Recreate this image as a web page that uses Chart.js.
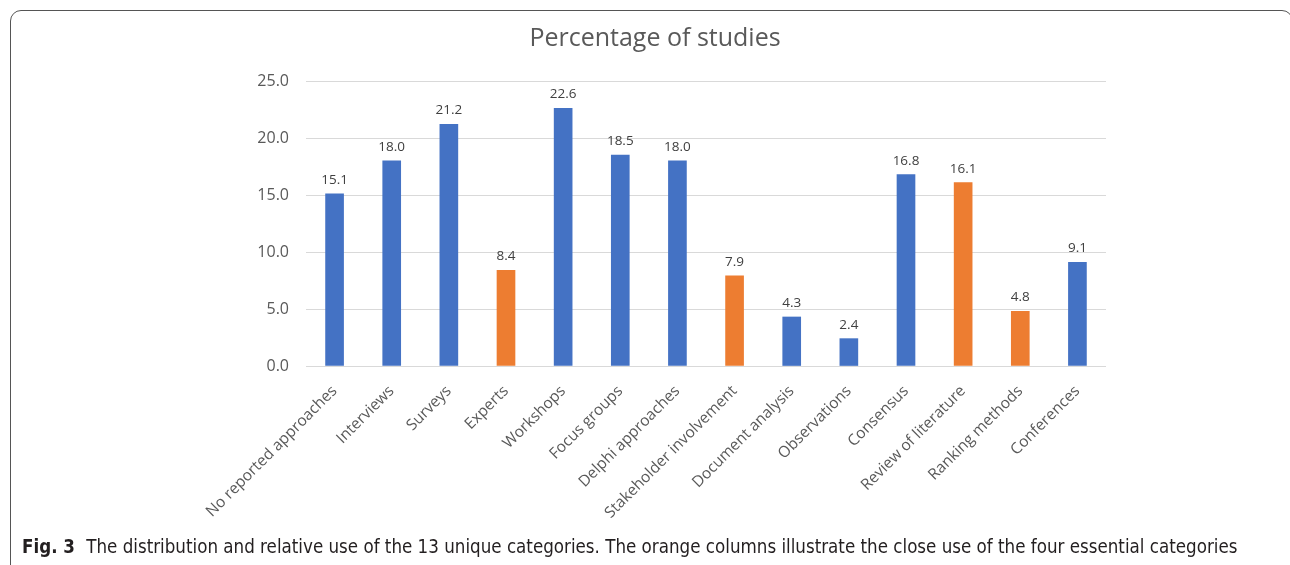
<!DOCTYPE html>
<html>
<head>
<meta charset="utf-8">
<script src="https://cdn.jsdelivr.net/npm/chart.js@4.4.1/dist/chart.umd.min.js"></script>
<style>
  html, body { margin: 0; padding: 0; background: #fff; overflow: hidden; }
  #page { position: relative; width: 1290px; height: 565px; overflow: hidden; }
  #frame {
    position: absolute; left: 10px; top: 10px; width: 1283px; height: 620px;
    border: 1.3px solid #555; border-radius: 11px; box-sizing: border-box;
  }
  #chart { position: absolute; left: 0; top: 0; }
  #caption {
    position: absolute; left: 22px; top: 536px; white-space: nowrap;
    font-family: "Liberation Sans Narrow", "DejaVu Sans Condensed", sans-serif;
    font-size: 18.6px; color: #231f20;
  }
  #caption b { margin-right: 6px; }
</style>
</head>
<body>
<div id="page">
  <div id="frame"></div>
  <canvas id="chart" width="1290" height="565"></canvas>
  <div id="caption"><b>Fig. 3</b> The distribution and relative use of the 13 unique categories. The orange columns illustrate the close use of the four essential categories</div>
</div>
<script>
// categories and values
const categories = [
  'No reported approaches', 'Interviews', 'Surveys', 'Experts', 'Workshops',
  'Focus groups', 'Delphi approaches', 'Stakeholder involvement', 'Document analysis',
  'Observations', 'Consensus', 'Review of literature', 'Ranking methods', 'Conferences'
];
const percentages = [15.1, 18.0, 21.2, 8.4, 22.6, 18.5, 18.0, 7.9, 4.3, 2.4, 16.8, 16.1, 4.8, 9.1];
// the four essential categories are shown in orange
const essential = ['Experts', 'Stakeholder involvement', 'Review of literature', 'Ranking methods'];
const yTicks = [0, 5, 10, 15, 20, 25];

const blue = '#4472C4';
const orange = '#ED7D31';
const barColors = categories.map(c => essential.includes(c) ? orange : blue);

// value labels above each column
const valueLabels = {
    id: 'valueLabels',
    afterDatasetsDraw(chart) {
        const ctx = chart.ctx;
        const meta = chart.getDatasetMeta(0);
        ctx.save();
        ctx.font = '13.5px "Open Sans", sans-serif';
        ctx.fillStyle = '#404040';
        ctx.textAlign = 'center';
        ctx.textBaseline = 'bottom';
        meta.data.forEach((bar, i) => {
            ctx.fillText(percentages[i].toFixed(1), bar.x, bar.y - 7);
        });
        ctx.restore();
    }
};

const ctx = document.getElementById('chart').getContext('2d');
new Chart(ctx, {
    type: 'bar',
    data: {
        labels: categories,
        datasets: [{
            data: percentages,
            backgroundColor: barColors,
            barThickness: 18
        }]
    },
    options: {
        responsive: false,
        animation: false,
        layout: { padding: { left: 204, right: 184, top: 10, bottom: 29 } },
        plugins: {
            legend: { display: false },
            tooltip: { enabled: false },
            title: {
                display: true,
                text: 'Percentage of studies',
                color: '#595959',
                font: { family: '"Open Sans", sans-serif', size: 25, weight: 'normal' },
                padding: { top: 14, bottom: 27 }
            }
        },
        scales: {
            x: {
                grid: { display: false },
                border: { display: false },
                ticks: {
                    color: '#595959',
                    font: { family: '"Open Sans", sans-serif', size: 15.5 },
                    minRotation: 45,
                    maxRotation: 45,
                    padding: 8,
                    autoSkip: false
                },
                afterFit(scale) {
                    scale.height = 170;
                    scale.paddingLeft = 0;
                    scale.paddingRight = 0;
                }
            },
            y: {
                min: 0,
                max: 25,
                afterBuildTicks(scale) {
                    scale.ticks = yTicks.map(v => ({ value: v }));
                },
                grid: { color: '#d9d9d9', lineWidth: 1, drawTicks: false },
                border: { display: false },
                ticks: {
                    color: '#595959',
                    font: { family: '"Open Sans", sans-serif', size: 16 },
                    padding: 17,
                    callback: v => v.toFixed(1)
                },
                afterFit(scale) {
                    scale.width = 102;
                }
            }
        }
    },
    plugins: [valueLabels]
});
</script>
</body>
</html>
